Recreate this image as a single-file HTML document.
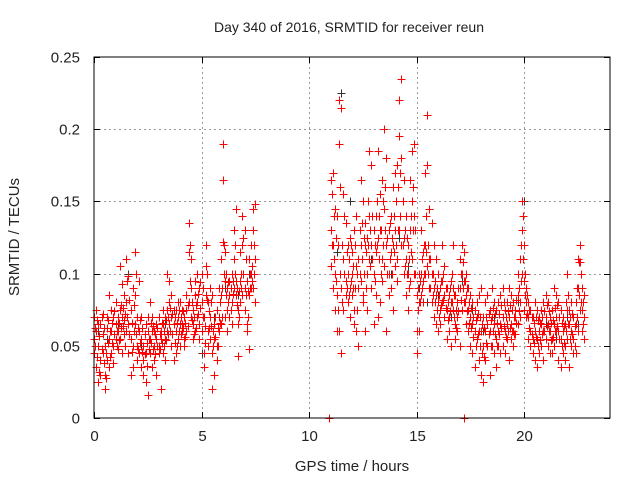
<!DOCTYPE html>
<html><head><meta charset="utf-8"><style>
body{margin:0;background:#fff}
svg{display:block;font-family:"Liberation Sans",sans-serif}
</style></head><body>
<svg id="c" width="640" height="480">
<text x="349" y="32" font-size="14" text-anchor="middle" fill="#222">Day 340 of 2016, SRMTID for receiver reun</text>
<text x="352" y="471" font-size="15" text-anchor="middle" fill="#222">GPS time / hours</text>
<text x="0" y="0" font-size="15" text-anchor="middle" fill="#222" transform="translate(19,237) rotate(-90)">SRMTID / TECUs</text>
<g id="grid"></g>
<g id="ticks"></g>
<g id="black"></g>
<g id="red"></g>
<rect x="94" y="57" width="516" height="361" fill="none" stroke="#000" stroke-width="1"/>
</svg>
<script>
const xTicks=[0,5,10,15,20];
const yTicks=[0,0.05,0.1,0.15,0.2,0.25];
const yTickLabels=["0","0.05","0.1","0.15","0.2","0.25"];
const redData=[
[0.0,.055,.045,.07],[0.1,.06,.035,.075],[0.2,.05,.025,.065],[0.3,.065,.04,.03],[0.4,.058,.072,.045],[0.5,.05,.03,.02],[0.6,.062,.04,.07],[0.7,.055,.035,.085],[0.8,.075,.06,.045],[0.9,.07,.05,.038],
[1.0,.065,.055,.08],[1.1,.06,.07,.048],[1.2,.075,.055,.105],[1.3,.07,.093,.045],[1.4,.068,.058,.085],[1.5,.11,.08,.06],[1.6,.098,.065,.045],[1.7,.075,.03,.055],[1.8,.09,.05,.035],[1.9,.085,.115,.065],
[2.0,.07,.05,.04],[2.1,.06,.045,.095],[2.2,.055,.035,.07],[2.3,.05,.04,.03],[2.4,.065,.025,.045],[2.5,.06,.016,.07],[2.6,.045,.055,.08],[2.7,.06,.035,.07],[2.8,.05,.06,.04],[2.9,.055,.065,.03],
[3.0,.07,.05,.045],[3.1,.06,.02,.055],[3.2,.065,.045,.075],[3.3,.055,.07,.04],[3.4,.075,.06,.1],[3.5,.08,.065,.095],[3.6,.07,.05,.085],[3.7,.065,.04,.075],[3.8,.075,.06,.045],[3.9,.07,.055,.08],
[4.0,.08,.05,.065],[4.1,.065,.075,.06],[4.2,.07,.055,.05],[4.3,.085,.06,.075],[4.4,.135,.115,.08],[4.5,.11,.07,.09],[4.6,.075,.065,.055],[4.7,.085,.095,.06],[4.8,.1,.08,.07],[4.9,.09,.065,.055],
[5.0,.08,.1,.06],[5.1,.07,.045,.035],[5.2,.12,.105,.085],[5.3,.08,.06,.05],[5.4,.09,.07,.055],[5.5,.085,.045,.02],[5.6,.065,.03,.055],[5.7,.075,.05,.04],[5.8,.09,.07,.06],[5.9,.085,.11,.065],
[6.0,.19,.165,.122],[6.1,.115,.07,.095],[6.2,.09,.075,.06],[6.3,.095,.085,.07],[6.4,.1,.08,.065],[6.5,.13,.11,.09],[6.6,.145,.085,.095],[6.7,.075,.065,.043],[6.8,.095,.08,.115],[6.9,.14,.12,.085],
[7.0,.09,.13,.075],[7.1,.095,.065,.06],[7.2,.085,.048,.11],[7.3,.12,.1,.09],[7.4,.145,.13,.09],[7.5,.148,.11,.08],
[11.0,.165,.13,.105],[11.1,.17,.12,.09],[11.2,.145,.1,.075],[11.3,.14,.085,.06],[11.4,.22,.19,.06],[11.5,.215,.09,.045],[11.6,.155,.11,.075],[11.7,.135,.095,.085],[11.8,.12,.1,.08],[11.9,.125,.09,.07],
[12.0,.115,.1,.085],[12.1,.13,.075,.065],[12.2,.14,.105,.06],[12.3,.11,.09,.05],[12.4,.165,.12,.095],[12.5,.15,.085,.08],[12.6,.135,.12,.06],[12.7,.125,.1,.075],[12.8,.185,.14,.11],[12.9,.175,.12,.09],
[13.0,.13,.1,.065],[13.1,.14,.115,.085],[13.2,.185,.125,.07],[13.3,.155,.13,.08],[13.4,.165,.11,.095],[13.5,.2,.145,.105],[13.6,.18,.12,.06],[13.7,.13,.1,.085],[13.8,.14,.115,.09],[13.9,.16,.12,.075],
[14.0,.17,.13,.105],[14.1,.175,.11,.095],[14.2,.22,.195,.13],[14.3,.235,.18,.12],[14.4,.165,.125,.1],[14.5,.14,.11,.085],[14.6,.12,.1,.075],[14.7,.165,.13,.095],[14.8,.185,.15,.11],[14.9,.19,.14,.1],
[15.0,.085,.06,.045],[15.1,.1,.08,.06],[15.2,.13,.1,.085],[15.3,.115,.095,.08],[15.4,.17,.12,.1],[15.5,.21,.175,.105],[15.6,.145,.11,.09],[15.7,.135,.1,.08],[15.8,.12,.09,.07],[15.9,.11,.085,.065],
[16.0,.1,.08,.06],[16.1,.09,.075,.065],[16.2,.12,.095,.08],[16.3,.105,.085,.07],[16.4,.09,.075,.055],[16.5,.085,.07,.06],[16.6,.095,.08,.05],[16.7,.12,.09,.075],[16.8,.085,.065,.055],[16.9,.08,.07,.06],
[17.0,.11,.09,.05],[17.1,.12,.1,.075],[17.2,.115,.095,.08],[17.3,.1,.085,.065],[17.4,.09,.075,.06],[17.5,.085,.07,.05],[17.6,.08,.065,.045],[17.7,.075,.06,.035],[17.8,.08,.07,.055],[17.9,.085,.06,.04],
[18.0,.09,.06,.03],[18.1,.07,.05,.025],[18.2,.08,.06,.04],[18.3,.085,.065,.05],[18.4,.075,.06,.03],[18.5,.09,.07,.05],[18.6,.08,.065,.045],[18.7,.075,.055,.035],[18.8,.08,.06,.05],[18.9,.085,.065,.045],
[19.0,.09,.07,.05],[19.1,.075,.06,.045],[19.2,.08,.065,.055],[19.3,.09,.07,.04],[19.4,.085,.065,.055],[19.5,.08,.06,.05],[19.6,.075,.07,.058],[19.7,.1,.085,.065],[19.8,.11,.08,.07],[19.9,.15,.13,.1],
[20.0,.12,.095,.075],[20.1,.09,.08,.07],[20.2,.08,.07,.055],[20.3,.075,.06,.05],[20.4,.07,.055,.045],[20.5,.08,.06,.04],[20.6,.075,.055,.035],[20.7,.07,.06,.045],[20.8,.075,.065,.05],[20.9,.08,.06,.04],
[21.0,.085,.07,.055],[21.1,.08,.065,.05],[21.2,.07,.06,.045],[21.3,.075,.055,.045],[21.4,.09,.065,.05],[21.5,.085,.07,.06],[21.6,.08,.06,.04],[21.7,.075,.055,.035],[21.8,.07,.06,.045],[21.9,.065,.05,.04],
[22.0,.1,.075,.055],[22.1,.075,.065,.035],[22.2,.08,.06,.05],[22.3,.07,.055,.045],[22.4,.08,.065,.045],[22.5,.11,.09,.06],[22.6,.12,.108,.075],[22.7,.09,.075,.06],[22.8,.085,.07,.055]
];
const redData2=[
[0.05,.062,.05],[0.15,.068,.042],[0.25,.057,.032],[0.35,.048,.07],[0.45,.062,.038],[0.55,.045,.028],[0.65,.068,.052],[0.75,.06,.042],[0.85,.066,.052],[0.95,.074,.058],
[1.05,.06,.05],[1.15,.066,.054],[1.25,.062,.078],[1.35,.064,.076],[1.45,.072,.05],[1.55,.095,.07],[1.65,.082,.058],[1.75,.066,.046],[1.85,.078,.06],[1.95,.1,.058],
[2.05,.062,.048],[2.15,.068,.052],[2.25,.062,.046],[2.35,.058,.044],[2.45,.052,.036],[2.55,.055,.048],[2.65,.066,.052],[2.75,.064,.048],[2.85,.058,.044],[2.95,.062,.05],
[3.05,.058,.048],[3.15,.066,.052],[3.25,.06,.05],[3.35,.068,.054],[3.45,.07,.058],[3.55,.076,.06],[3.65,.072,.058],[3.75,.07,.052],[3.85,.066,.05],[3.95,.075,.06],
[4.05,.07,.058],[4.15,.074,.062],[4.25,.066,.056],[4.35,.078,.064],[4.45,.12,.095],[4.55,.08,.068],[4.65,.07,.058],[4.75,.078,.062],[4.85,.086,.072],[4.95,.094,.076],
[5.05,.09,.07],[5.15,.064,.052],[5.25,.1,.082],[5.35,.074,.062],[5.45,.08,.064],[5.55,.06,.05],[5.65,.07,.056],[5.75,.062,.05],[5.85,.08,.066],[5.95,.09,.07],
[6.05,.12,.1],[6.15,.1,.085],[6.25,.094,.08],[6.35,.09,.075],[6.45,.095,.086],[6.55,.12,.1],[6.65,.09,.078],[6.75,.088,.07],[6.85,.1,.09],[6.95,.125,.1],
[7.05,.11,.085],[7.15,.088,.07],[7.25,.1,.09],[7.35,.105,.095],[7.45,.12,.1],
[11.05,.155,.12],[11.15,.14,.11],[11.25,.125,.095],[11.35,.12,.075],[11.45,.16,.1],[11.55,.12,.08],[11.65,.14,.1],[11.75,.115,.09],[11.85,.11,.085],[11.95,.12,.095],
[12.05,.105,.09],[12.15,.12,.09],[12.25,.1,.075],[12.35,.13,.1],[12.45,.135,.11],[12.55,.125,.1],[12.65,.115,.09],[12.75,.15,.12],[12.85,.13,.105],[12.95,.14,.11],
[13.05,.12,.095],[13.15,.15,.12],[13.25,.14,.11],[13.35,.13,.1],[13.45,.15,.12],[13.55,.16,.13],[13.65,.125,.1],[13.75,.135,.11],[13.85,.125,.1],[13.95,.14,.115],
[14.05,.15,.12],[14.15,.16,.13],[14.25,.17,.14],[14.35,.15,.12],[14.45,.13,.105],[14.55,.125,.1],[14.65,.11,.09],[14.75,.14,.115],[14.85,.16,.13],[14.95,.13,.1],
[15.05,.09,.075],[15.15,.095,.08],[15.25,.11,.09],[15.35,.12,.1],[15.45,.14,.115],[15.55,.12,.1],[15.65,.11,.09],[15.75,.1,.085],[15.85,.095,.08],[15.95,.09,.075],
[16.05,.085,.07],[16.15,.095,.078],[16.25,.1,.082],[16.35,.09,.076],[16.45,.08,.068],[16.55,.09,.074],[16.65,.1,.08],[16.75,.085,.07],[16.85,.075,.062],[16.95,.09,.074],
[17.05,.1,.082],[17.15,.108,.09],[17.25,.095,.08],[17.35,.09,.074],[17.45,.08,.066],[17.55,.076,.062],[17.65,.07,.056],[17.75,.068,.05],[17.85,.072,.058],[17.95,.07,.05],
[18.05,.065,.045],[18.15,.062,.042],[18.25,.07,.052],[18.35,.072,.058],[18.45,.068,.05],[18.55,.076,.06],[18.65,.072,.058],[18.75,.066,.05],[18.85,.072,.058],[18.95,.078,.062],
[19.05,.08,.064],[19.15,.07,.056],[19.25,.074,.06],[19.35,.078,.062],[19.45,.075,.06],[19.55,.07,.058],[19.65,.082,.066],[19.75,.09,.074],[19.85,.12,.095],[19.95,.14,.11],
[20.05,.1,.085],[20.15,.085,.072],[20.25,.075,.062],[20.35,.07,.058],[20.45,.066,.052],[20.55,.07,.056],[20.65,.068,.05],[20.75,.066,.054],[20.85,.07,.058],[20.95,.074,.06],
[21.05,.078,.064],[21.15,.074,.06],[21.25,.066,.054],[21.35,.068,.056],[21.45,.076,.06],[21.55,.078,.064],[21.65,.07,.055],[21.75,.066,.05],[21.85,.064,.052],[21.95,.08,.06],
[22.05,.085,.065],[22.15,.07,.055],[22.25,.072,.058],[22.35,.064,.05],[22.45,.09,.07],[22.55,.108,.085],[22.65,.1,.08],[22.75,.08,.065]
];
const blackTimes=[0.2,0.6,1.1,1.6,2.2,2.8,3.3,3.9,4.4,5.0,5.6,6.1,6.7,7.2,11.3,11.5,11.9,12.4,12.9,13.3,13.8,14.2,14.6,15.1,15.5,16.0,16.6,17.1,17.6,18.1,18.6,19.2,19.7,20.0,20.5,21.0,21.5,22.0,22.5];
const blackValues=[.06,.055,.065,.1,.05,.06,.065,.07,.08,.045,.07,.09,.085,.1,.115,.225,.15,.12,.11,.13,.1,.125,.105,.09,.08,.085,.07,.095,.075,.06,.07,.065,.08,.15,.06,.065,.055,.07,.065];
const specialMarks=[[10.95,0],[17.2,0]];

const X0=94,X1=610,Y0=418,Y1=57,XMAX=24,YMAX=0.25;
const sx=t=>X0+t/XMAX*(X1-X0);
const sy=v=>Y0-v/YMAX*(Y0-Y1);
const NS="http://www.w3.org/2000/svg";
const grid=document.getElementById('grid'),ticks=document.getElementById('ticks');
function ln(p,x1,y1,x2,y2,st,dash){const l=document.createElementNS(NS,'line');l.setAttribute('x1',x1);l.setAttribute('y1',y1);l.setAttribute('x2',x2);l.setAttribute('y2',y2);l.setAttribute('stroke',st);if(dash)l.setAttribute('stroke-dasharray',dash);p.appendChild(l);return l;}
function tx(x,y,s,anchor){const t=document.createElementNS(NS,'text');t.setAttribute('x',x);t.setAttribute('y',y);t.setAttribute('font-size','15');t.setAttribute('fill','#222');t.setAttribute('text-anchor',anchor);t.textContent=s;ticks.appendChild(t);return t;}
xTicks.forEach(v=>{const x=Math.round(sx(v))+0.5;
 if(v>0){const g=ln(grid,x,Y1,x,Y0,'#999','2,3');

}
 ln(ticks,x,Y0,x,Y0-6,'#000');ln(ticks,x,Y1,x,Y1+6,'#000');
 const t=tx(x,Y0+23,String(v),'middle');


});
yTicks.forEach((v,i)=>{const y=Math.round(sy(v))+0.5;
 if(v>0&&v<YMAX){const g=ln(grid,X0,y,X1,y,'#999','2,3');

}
 ln(ticks,X0,y,X0+6,y,'#000');ln(ticks,X1,y,X1-6,y,'#000');
 const t=tx(X0-14,y+5,yTickLabels[i],'end');


});
function plus(g,t,v,col){const x=Math.round(sx(t))+0.5,y=Math.round(sy(v))+0.5;
 const p=document.createElementNS(NS,'path');p.setAttribute('d',`M${x-4},${y}H${x+4}M${x},${y-4}V${y+4}`);p.setAttribute('stroke',col);p.setAttribute('stroke-width','1');
 
 
 g.appendChild(p);}
const bg=document.getElementById('black'),rg=document.getElementById('red');
blackTimes.forEach((t,i)=>plus(bg,t,blackValues[i],'#333'));
redData.forEach(r=>{for(let k=1;k<r.length;k++)plus(rg,r[0],r[k],'#f00');});
redData2.forEach(r=>{for(let k=1;k<r.length;k++)plus(rg,r[0],r[k],'#f00');});
specialMarks.forEach(m=>plus(rg,m[0],m[1],'#f00'));
</script>
</body></html>
